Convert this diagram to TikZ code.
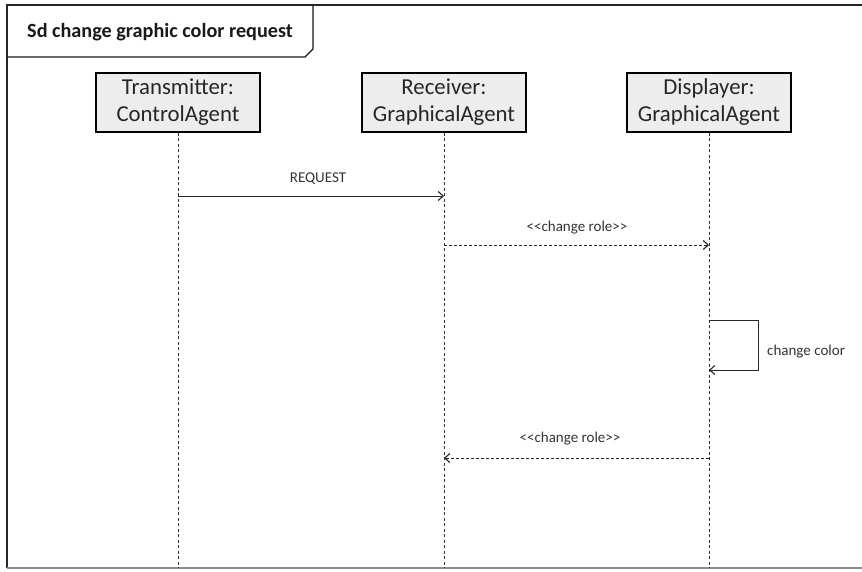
\documentclass[tikz,border=0pt]{standalone}
\usepackage{fontspec}
\setmainfont{Carlito}
\usetikzlibrary{arrows.meta}
\tikzset{
  objbox/.style={draw=black, line width=1.8pt, fill=gray!14, minimum width=164pt, minimum height=59pt, inner sep=0pt, align=center, font=\fontsize{22.8}{27}\selectfont, text=black!85},
  lifeline/.style={draw=black!80, line width=0.8pt, dash pattern=on 3pt off 2.5pt},
  msg/.style={draw=black!85, line width=0.9pt, -{Straight Barb[length=5pt,width=9pt,line width=1.1pt]}},
  dmsg/.style={msg, dash pattern=on 3pt off 2pt},
  lbl/.style={font=\fontsize{15}{17}\selectfont, text=black!80, inner sep=0pt},
}
\begin{document}
\begin{tikzpicture}[x=1pt,y=-1pt]
\useasboundingbox (0,0) rectangle (862,571);
% frame
\draw[black!85, line width=2pt] (862,5) -- (7,5) -- (7,568);
\draw[black!45, line width=1.6pt] (7,568) -- (862,568);
% title tab
\draw[black!90, line width=1.4pt] (7,57) -- (305,57) -- (313,49) -- (313,5);
\node[anchor=west, font=\bfseries\fontsize{20.2}{22}\selectfont, text=black!90, inner sep=0pt] (title) at (27,32) {Sd change graphic color request};
% objects
\node[objbox] (tx) at (178,102.5) {Transmitter:\\ControlAgent};
\node[objbox] (rx) at (444,102.5) {Receiver:\\GraphicalAgent};
\node[objbox] (dx) at (709,102.5) {Displayer:\\GraphicalAgent};
% lifeline ends
\coordinate (txEnd) at (178,568);
\coordinate (rxEnd) at (444,568);
\coordinate (dxEnd) at (709,568);
\draw[lifeline] (tx.south) -- (txEnd);
\draw[lifeline] (rx.south) -- (rxEnd);
\draw[lifeline] (dx.south) -- (dxEnd);
% message points
\coordinate (m1a) at (178,196);
\coordinate (m1b) at (444,196);
\coordinate (m2a) at (444,245);
\coordinate (m2b) at (709,245);
\coordinate (s1) at (709,320);
\coordinate (s2) at (758,320);
\coordinate (s3) at (758,370);
\coordinate (s4) at (709,370);
\coordinate (m4a) at (709,458);
\coordinate (m4b) at (444,458);
% messages
\draw[msg] (m1a) -- (m1b);
\node[lbl] (l1) at (318,179) {REQUEST};
\draw[dmsg] (m2a) -- (m2b);
\node[lbl] (l2) at (577,228) {<{}<change role>{}>};
\draw[msg, line width=0.8pt] (s1) -- (s2) -- (s3) -- (s4);
\node[lbl, anchor=west] (l3) at (767,352) {change color};
\draw[dmsg] (m4a) -- (m4b);
\node[lbl] (l4) at (570,439) {<{}<change role>{}>};
\end{tikzpicture}
\end{document}
